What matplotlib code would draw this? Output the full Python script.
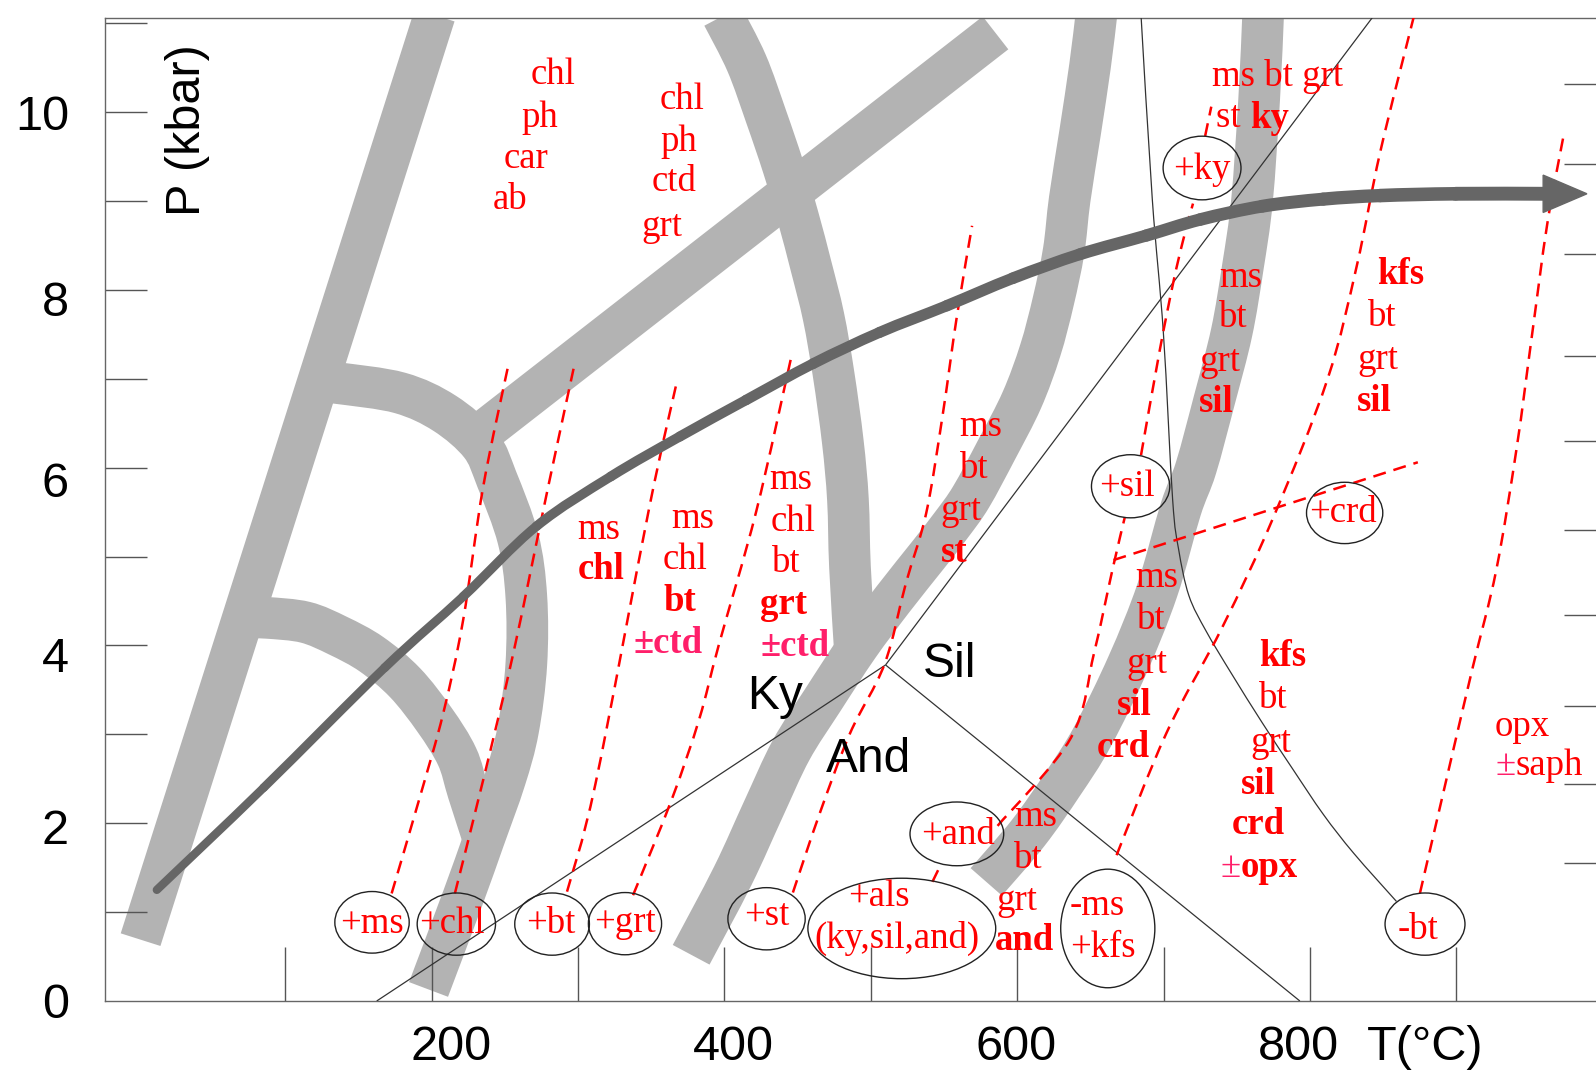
import numpy as np
import matplotlib
matplotlib.use("Agg")
import matplotlib.pyplot as plt
from matplotlib.patches import Ellipse, Polygon, PathPatch
from matplotlib.path import Path

plt.rcParams['font.family'] = ['Liberation Sans', 'DejaVu Sans']
SERIF = ['Liberation Serif', 'DejaVu Serif']

# ---------------- data (T in degC, P in kbar) ----------------
band1_T = [1.2, 202.1]
band1_P = [0.69, 11.09]
band2_T = [72.1, 87.4, 113.8, 136.0, 159.0, 181.9, 202.1, 217.4, 225.0, 234.8]
band2_P = [4.31, 4.31, 4.26, 4.11, 3.90, 3.58, 3.16, 2.75, 2.35, 1.85]
band3_T = [122.1, 136.0, 178.4, 209.0, 233.4, 244.5, 259.1, 264.7, 264.7, 259.1, 250.1, 235.5, 221.6, 197.9]
band3_P = [6.97, 6.95, 6.84, 6.61, 6.26, 5.87, 5.20, 4.55, 3.79, 3.05, 2.49, 1.81, 1.17, 0.13]
band4_T = [226.4, 585.2]
band4_P = [6.29, 10.89]
band5_T = [398.9, 415.2, 428.7, 440.2, 450.3, 459.3, 467.7, 474.6, 480.9, 484.4, 485.8, 489.2]
band5_P = [11.08, 10.55, 9.94, 9.38, 8.82, 8.26, 7.70, 7.05, 6.29, 5.64, 4.88, 3.93]
band6_T = [377.3, 405.8, 426.7, 445.5, 467.0, 491.3, 515.7, 539.3, 555.3, 568.5, 585.9, 603.2,
           615.8, 624.8, 631.8, 635.9, 642.9, 649.8, 654.0]
band6_P = [0.52, 1.41, 2.16, 2.82, 3.38, 3.99, 4.53, 5.02, 5.36, 5.67, 6.20, 6.76,
           7.32, 7.88, 8.44, 9.02, 9.76, 10.52, 11.08]
band7_T = [578.9, 607.5, 631.1, 651.3, 675.6, 695.7, 711.7, 722.2, 734.7, 746.5, 754.2, 760.4, 765.3, 768.0]
band7_P = [1.34, 1.89, 2.44, 2.97, 3.79, 4.62, 5.53, 6.00, 6.76, 7.52, 8.26, 9.00, 10.14, 11.09]

# P-T path
path_T = [12.3, 85.3, 168.0, 221.6, 271.6, 322.4, 369.6, 414.8, 460.7, 505.9,
          551.8, 597.0, 642.9, 688.1, 724.9, 767.4, 809.1, 848.0, 899.5, 959.3]
path_P = [1.25, 2.40, 3.75, 4.55, 5.34, 5.90, 6.35, 6.76, 7.17, 7.52,
          7.82, 8.13, 8.40, 8.61, 8.79, 8.94, 9.02, 9.06, 9.08, 9.08]
path_tip_T = 989.2

# Al2SiO5 boundaries
kyand_T = [162.5, 510.1]
kyand_P = [0.0, 3.78]
kysil_T = [510.1, 843.9]
kysil_P = [3.78, 11.09]
andsil_T = [510.1, 793.1]
andsil_P = [3.78, 0.0]
curve_T = [684.6, 692.3, 699.9, 706.2, 710.3, 717.3, 729.1, 746.5, 767.4, 788.2, 809.1, 830.0, 859.1]
curve_P = [11.09, 9.02, 7.51, 5.64, 5.08, 4.56, 4.16, 3.68, 3.13, 2.61, 2.10, 1.66, 1.12]

# red dashed isograds
iso_ms_T = [172.7, 192.1, 208.0, 221.6, 235.3, 252.9]
iso_ms_P = [1.21, 2.30, 3.24, 4.29, 5.79, 7.19]
iso_chl_T = [215.9, 235.3, 255.8, 279.7, 298.0]
iso_chl_P = [1.21, 2.49, 3.91, 5.79, 7.19]
iso_bt_T = [292.5, 311.9, 348.8, 367.6]; iso_bt_P = [1.23, 2.44, 5.56, 6.97]
iso_grt_T = [337.6, 364.1, 382.8, 396.1, 421.8, 445.5]; iso_grt_P = [1.19, 2.27, 3.17, 4.00, 5.51, 7.23]
iso_st_T = [446.8, 464.9, 485.8, 509.4, 524.0, 537.9, 549.0, 558.8, 569.2]
iso_st_P = [1.22, 2.10, 3.01, 3.79, 4.70, 5.49, 6.58, 7.70, 8.72]
iso_and_T = [542.1, 548.3]; iso_and_P = [1.34, 1.55]
iso_sil_T = [586.6, 636.7, 652.6, 665.2, 673.5]; iso_sil_P = [1.97, 2.96, 3.92, 4.86, 5.44]
iso_ky_T = [684.6, 697.4, 706.6, 713.4, 720.1]; iso_ky_P = [6.14, 7.32, 8.08, 8.56, 8.97]
iso_ky2_T = [728.4, 732.6]; iso_ky2_P = [9.73, 10.06]
iso_crd_T = [665.8, 873.7]; iso_crd_P = [4.96, 6.06]
iso_kfs_T = [667.9, 702.0, 740.3, 775.0, 811.9, 832.0, 848.0, 870.9]
iso_kfs_P = [1.64, 3.015, 4.21, 5.44, 6.99, 8.27, 9.55, 11.07]
iso_opx_T = [875.1, 895.3, 911.3, 927.3, 941.2, 951.6, 962.1, 973.2]
iso_opx_P = [1.21, 2.64, 3.76, 4.85, 6.22, 7.48, 8.74, 9.73]

# ellipses (reaction labels)
ell_text = ['+ms', '+chl', '+bt', '+grt', '+st', '+and', '+sil', '+ky', '+crd', '-bt']
ell_text_T = [159.3, 213.6, 281.6, 332.1, 428.8, 559.5, 674.9, 725.8, 822.3, 873.8]
ell_text_P = [0.87, 0.87, 0.87, 0.885, 0.96, 1.87, 5.79, 9.35, 5.49, 0.80]
ell_T = [159.3, 216.9, 282.3, 332.1, 428.8, 521.2, 558.8, 661.9, 677.5, 726.3, 823.7, 878.6]
ell_P = [0.885, 0.865, 0.865, 0.87, 0.925, 0.816, 1.88, 0.816, 5.79, 9.37, 5.49, 0.865]
ell_w = [50.8, 53.5, 51.0, 50.0, 52.8, 128.3, 64.0, 64.3, 53.5, 53.2, 52.1, 54.6]
ell_h = [0.693, 0.70, 0.70, 0.70, 0.70, 1.13, 0.717, 1.334, 0.71, 0.716, 0.69, 0.70]
ell2_text = ['+als', '(ky,sil,and)', '-ms', '+kfs']
ell2_T = [505.6, 517.6, 654.7, 658.6]
ell2_P = [1.17, 0.70, 1.07, 0.60]

# mineral assemblage labels
min_text = ['chl', 'ph', 'car', 'ab',
            'chl', 'ph', 'ctd', 'grt',
            'ms', 'chl',
            'ms', 'chl', 'bt',
            'ms', 'chl', 'bt', 'grt',
            'ms', 'bt', 'grt', 'st',
            'ms bt grt',
            'ms', 'bt', 'grt', 'sil',
            'kfs', 'bt', 'grt', 'sil',
            'ms', 'bt', 'grt', 'sil', 'crd',
            'kfs', 'bt', 'grt', 'sil', 'crd',
            'ms', 'bt', 'grt', 'and',
            'opx']
min_T = [282.7, 273.7, 264.7, 253.5,
         371.4, 369.0, 365.5, 357.1,
         314.3, 315.7,
         378.5, 373.1, 369.3,
         445.4, 446.8, 442.4, 440.6,
         575.1, 570.6, 561.4, 556.7,
         777.8,
         752.6, 747.9, 738.8, 736.1,
         861.9, 849.1, 846.6, 843.9,
         695.5, 691.3, 688.8, 679.7, 672.8,
         781.6, 774.7, 773.6, 764.6, 764.6,
         613.0, 607.5, 599.8, 605.1,
         945.1]
min_P = [10.42, 9.93, 9.47, 9.01,
         10.14, 9.66, 9.22, 8.71,
         5.30, 4.85,
         5.43, 4.96, 4.49,
         5.86, 5.39, 4.93, 4.46,
         6.46, 5.99, 5.52, 5.05,
         10.40,
         8.13, 7.68, 7.19, 6.73,
         8.17, 7.70, 7.21, 6.74,
         4.76, 4.29, 3.79, 3.32, 2.85,
         3.87, 3.40, 2.91, 2.44, 1.98,
         2.07, 1.60, 1.13, 0.68,
         3.09]
min_bold = [0, 0, 0, 0,
            0, 0, 0, 0,
            0, 1,
            0, 0, 1,
            0, 0, 0, 1,
            0, 0, 0, 1,
            0,
            0, 0, 0, 1,
            1, 0, 0, 1,
            0, 0, 0, 1, 1,
            1, 0, 0, 1, 1,
            0, 0, 0, 1,
            0]
opt_text = ['\u00b1ctd', '\u00b1ctd']
opt_T = [361.3, 448.5]
opt_P = [4.02, 3.99]
split_left = ['st', '\u00b1', '\u00b1']
split_right = ['ky', 'opx', 'saph']
split_T = [759.3, 752.8, 940.5]
split_P = [9.93, 1.50, 2.65]
split_bold = [1, 1, 0]

field_text = ['Ky', 'Sil', 'And']
field_T = [434.5, 553.7, 498.3]
field_P = [3.43, 3.78, 2.72]

xtick_major = [100, 200, 300, 400, 500, 600, 700, 800, 900]
xlab_pos = [213, 406, 599, 792]
xlab_text = ['200', '400', '600', '800']
ytick_major = [1, 2, 3, 4, 5, 6, 7, 8, 9, 10, 11]
ylab_pos = [0.0, 1.96, 3.9, 5.87, 7.9, 10.0]
ylab_text = ['0', '2', '4', '6', '8', '10']
right_tick_P = [10.32, 9.42, 8.40, 7.26, 6.30, 5.30, 4.34, 3.32, 2.44, 1.55]


def smooth_path(T, P):
    """Smooth curve through the given points (Catmull-Rom as cubic Bezier)."""
    pts = np.column_stack([T, P]).astype(float)
    n = len(pts)
    if n < 3:
        return Path(pts)
    verts = [pts[0]]
    codes = [Path.MOVETO]
    for i in range(n - 1):
        p0 = pts[i - 1] if i > 0 else pts[i]
        p1, p2 = pts[i], pts[i + 1]
        p3 = pts[i + 2] if i + 2 < n else pts[i + 1]
        verts += [p1 + (p2 - p0) / 6.0, p2 - (p3 - p1) / 6.0, p2]
        codes += [Path.CURVE4] * 3
    return Path(verts, codes)


# ---------------- figure ----------------
fig = plt.figure(figsize=(15.96, 10.71), dpi=100)
ax = fig.add_axes([0.06579, 0.06536, 0.93421, 0.91830])
ax.set_xlim(-23.1, 995.4)
ax.set_ylim(0, 11.063)

RED = '#ff0000'
PINK = '#ff1f6a'
GREYBAND = '#b3b3b3'

for T, P in [(band1_T, band1_P), (band2_T, band2_P), (band3_T, band3_P), (band4_T, band4_P),
             (band5_T, band5_P), (band6_T, band6_P), (band7_T, band7_P)]:
    ax.add_patch(PathPatch(smooth_path(T, P), fill=False, ec=GREYBAND, lw=30,
                           capstyle='butt', joinstyle='round', zorder=1))

for T, P in [(kyand_T, kyand_P), (kysil_T, kysil_P), (andsil_T, andsil_P), (curve_T, curve_P)]:
    ax.add_patch(PathPatch(smooth_path(T, P), fill=False, ec='#333333', lw=0.9, zorder=3))

for T, P in [(iso_ms_T, iso_ms_P), (iso_chl_T, iso_chl_P), (iso_bt_T, iso_bt_P),
             (iso_grt_T, iso_grt_P), (iso_st_T, iso_st_P), (iso_and_T, iso_and_P),
             (iso_sil_T, iso_sil_P), (iso_ky_T, iso_ky_P), (iso_ky2_T, iso_ky2_P),
             (iso_crd_T, iso_crd_P), (iso_kfs_T, iso_kfs_P), (iso_opx_T, iso_opx_P)]:
    ax.add_patch(PathPatch(smooth_path(T, P), fill=False, ec=RED, lw=1.8,
                           ls=(0, (5.2, 3.2)), zorder=4))

# P-T path: smooth, slowly widening, with arrow head
full = smooth_path(path_T, path_P)
v = full.vertices
nseg = len(path_T) - 1
widths = np.linspace(6.0, 10.0, nseg)
for i in range(nseg):
    seg = Path(v[3 * i:3 * i + 4], [Path.MOVETO, Path.CURVE4, Path.CURVE4, Path.CURVE4])
    ax.add_patch(PathPatch(seg, fill=False, ec='#666666', lw=widths[i],
                           capstyle='round', joinstyle='round', zorder=5))
hh = 0.21
ax.add_patch(Polygon([[path_T[-1], path_P[-1] + hh], [path_tip_T, path_P[-1]],
                      [path_T[-1], path_P[-1] - hh]], closed=True, color='#666666', zorder=5))

for T, P, w, h in zip(ell_T, ell_P, ell_w, ell_h):
    ax.add_patch(Ellipse((T, P), w, h, fill=False, ec='#222222', lw=1.0, zorder=6))

FS = 26.5
for s, T, P in zip(ell_text, ell_text_T, ell_text_P):
    ax.text(T, P, s, color=RED, fontsize=FS, family=SERIF, ha='center', va='center', zorder=7)
for s, T, P in zip(ell2_text, ell2_T, ell2_P):
    ax.text(T, P, s, color=RED, fontsize=FS, family=SERIF, ha='center', va='center', zorder=7)
for s, T, P, b in zip(min_text, min_T, min_P, min_bold):
    ax.text(T, P, s, color=RED, fontsize=FS, family=SERIF, fontweight='bold' if b else 'normal',
            ha='center', va='center', zorder=7)
for s, T, P in zip(opt_text, opt_T, opt_P):
    ax.text(T, P, s, color=PINK, fontsize=FS, family=SERIF, fontweight='bold',
            ha='center', va='center', zorder=7)
for l, r, T, P, b in zip(split_left, split_right, split_T, split_P, split_bold):
    lcol = RED if l == 'st' else PINK
    ax.text(T, P, l + (' ' if l == 'st' else ''), color=lcol, fontsize=FS, family=SERIF,
            ha='right', va='center', zorder=7)
    ax.text(T, P, r, color=RED, fontsize=FS, family=SERIF, fontweight='bold' if b else 'normal',
            ha='left', va='center', zorder=7)

for s, T, P in zip(field_text, field_T, field_P):
    ax.text(T, P, s, color='black', fontsize=34.5, ha='center', va='center', zorder=7)

ax.text(33.3, 9.80, 'P (kbar)', rotation=90, fontsize=35, ha='center', va='center', zorder=7)

# axes styling
for side in ['left', 'bottom', 'top']:
    ax.spines[side].set_color('#666666')
    ax.spines[side].set_linewidth(1.0)
ax.spines['right'].set_visible(False)

ax.xaxis.remove_overlapping_locs = False
ax.yaxis.remove_overlapping_locs = False
ax.set_xticks(xtick_major)
ax.set_xticklabels([])
ax.set_xticks(xlab_pos, labels=xlab_text, minor=True)
ax.tick_params(axis='x', which='major', direction='in', length=39, width=1.0, color='#555555')
ax.tick_params(axis='x', which='minor', direction='in', length=0, pad=17, labelsize=35)
ax.set_yticks(ytick_major)
ax.set_yticklabels([])
ax.set_yticks(ylab_pos, labels=ylab_text, minor=True)
ax.tick_params(axis='y', which='major', direction='in', length=30, width=1.0, color='#555555')
ax.tick_params(axis='y', which='minor', direction='in', length=0, pad=26, labelsize=35)

ax.annotate('T(\u00b0C)', xy=(878.6, 0), xycoords=('data', 'axes fraction'),
            xytext=(0, -17), textcoords='offset points', ha='center', va='top', fontsize=35)

axr = ax.twinx()
axr.set_ylim(ax.get_ylim())
axr.set_yticks(right_tick_P)
axr.tick_params(axis='y', direction='in', length=23, width=1.0, color='#555555', labelright=False)
for sp in axr.spines.values():
    sp.set_visible(False)

fig.savefig('out.png', dpi=100)
